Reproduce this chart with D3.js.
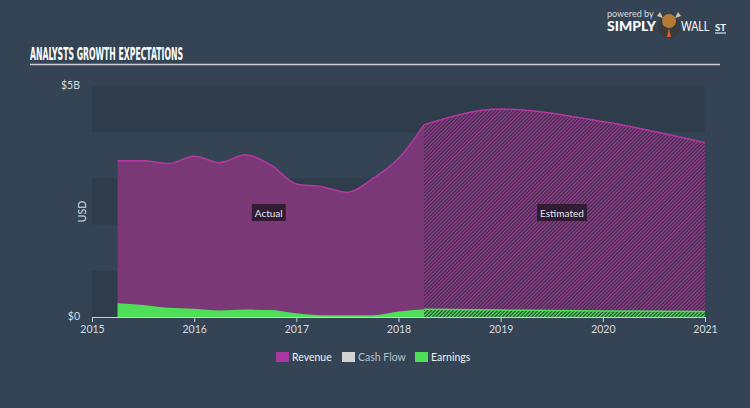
<!DOCTYPE html>
<html><head><meta charset="utf-8">
<script src="https://cdnjs.cloudflare.com/ajax/libs/d3/7.8.5/d3.min.js"></script>
<style>
html,body{margin:0;padding:0;background:#344454;}
svg{display:block;}
</style></head>
<body>
<svg id="c" width="750" height="408"></svg>
<script>
// ---- data ----
const actualDates = [2015.25,2015.5,2015.75,2016.0,2016.25,2016.5,2016.75,2017.0,2017.25,2017.5,2017.75,2018.0,2018.25];
const actualRevenue = [3.38,3.38,3.32,3.48,3.34,3.51,3.29,2.88,2.82,2.70,3.00,3.43,4.16];
const actualEarnings = [0.30,0.26,0.20,0.18,0.14,0.16,0.15,0.08,0.04,0.04,0.04,0.12,0.17];
const estDates = [2018.25,2019.0,2020.0,2021.0];
const estRevenue = [4.16,4.50,4.23,3.77];
const estEarnings = [0.17,0.15,0.13,0.12];
const yearTicks = [2015,2016,2017,2018,2019,2020,2021];
const yTickValues = [0,5];
const yTickLabels = ["$0","$5B"];
const legendItems = ["Revenue","Cash Flow","Earnings"];
const legendColors = ["#a9379d","#d2d2d2","#4ede58"];

const svg = d3.select("#c");
const W = 750, H = 408;
const x = d3.scaleLinear().domain([2015,2021]).range([92,705]);
const y = d3.scaleLinear().domain([0,5]).range([317,86]);

// background
svg.append("rect").attr("width",W).attr("height",H).attr("fill","#344454");

// defs: hatch patterns
const defs = svg.append("defs");
function hatch(id, bg, fg){
  const p = defs.append("pattern").attr("id",id).attr("patternUnits","userSpaceOnUse")
    .attr("width",2.6).attr("height",2.6).attr("patternTransform","rotate(45)");
  p.append("rect").attr("width",2.6).attr("height",2.6).attr("fill",bg);
  p.append("rect").attr("width",1.3).attr("height",2.6).attr("fill",fg);
}
hatch("hRev","#3c2f4a","#973a8e");
hatch("hEarn","#2f4a3a","#4ede58");

// title
svg.append("text").attr("x",30).attr("y",59.5).text("ANALYSTS GROWTH EXPECTATIONS")
  .attr("font-family","'DejaVu Sans Condensed','DejaVu Sans',sans-serif").attr("font-weight","bold")
  .attr("font-size",17).attr("fill","#ffffff").attr("textLength",153).attr("lengthAdjust","spacingAndGlyphs");
svg.append("line").attr("x1",30).attr("x2",720).attr("y1",64.5).attr("y2",64.5)
  .attr("stroke","#c9cfd6").attr("stroke-width",1.5);

// logo
const logo = svg.append("g");
logo.append("text").attr("x",607).attr("y",17).text("powered by").attr("font-family","Lato,sans-serif")
  .attr("font-size",9).attr("fill","#d8dde3");
logo.append("text").attr("x",607).attr("y",31).text("SIMPLY").attr("font-family","Lato,sans-serif")
  .attr("font-weight","900").attr("font-size",13).attr("fill","#ffffff").attr("textLength",49).attr("lengthAdjust","spacingAndGlyphs");
logo.append("circle").attr("cx",669).attr("cy",27).attr("r",11).attr("fill","#3b3b3b");
logo.append("ellipse").attr("cx",669).attr("cy",21).attr("rx",7).attr("ry",7).attr("fill","#b27a35");
logo.append("path").attr("d","M660,12 L663,18 L657,16 Z M678,12 L675,18 L681,16 Z").attr("fill","#d9c49a");
logo.append("path").attr("d","M669,28 L667,37 L671,37 Z").attr("fill","#e0602a");
logo.append("text").attr("x",681).attr("y",31).text("WALL").attr("font-family","Lato,sans-serif")
  .attr("font-size",13).attr("fill","#ffffff").attr("textLength",28).attr("lengthAdjust","spacingAndGlyphs");
logo.append("text").attr("x",715).attr("y",31).text("ST").attr("font-family","Lato,sans-serif")
  .attr("font-weight","bold").attr("font-size",10).attr("fill","#ffffff")
  .attr("textLength",11).attr("lengthAdjust","spacingAndGlyphs");
logo.append("line").attr("x1",715).attr("x2",726).attr("y1",33).attr("y2",33).attr("stroke","#ffffff").attr("stroke-width",1);

// bands (alternating)
const bandVals = [0,1,2,3,4];
svg.append("g").selectAll("rect").data(bandVals.filter(v=>v%2===0)).join("rect")
  .attr("x",x(2015)).attr("width",x(2021)-x(2015))
  .attr("y",d=>y(d+1)).attr("height",d=>y(d)-y(d+1))
  .attr("fill","#2e3c4b");

// areas
const actRev = actualDates.map((d,i)=>({d,v:actualRevenue[i]}));
const estRev = estDates.map((d,i)=>({d,v:estRevenue[i]}));
const actEarn = actualDates.map((d,i)=>({d,v:actualEarnings[i]}));
const estEarn = estDates.map((d,i)=>({d,v:estEarnings[i]}));
const area = d3.area().x(p=>x(p.d)).y0(y(0)).y1(p=>y(p.v)).curve(d3.curveMonotoneX);
const line = d3.line().x(p=>x(p.d)).y(p=>y(p.v)).curve(d3.curveMonotoneX);

svg.append("path").attr("d",area(actRev)).attr("fill","#7a3976");
svg.append("path").attr("d",area(estRev)).attr("fill","url(#hRev)");
svg.append("path").attr("d",line(actRev)).attr("fill","none").attr("stroke","#b4389f").attr("stroke-width",1.5);
svg.append("path").attr("d",line(estRev)).attr("fill","none").attr("stroke","#b4389f").attr("stroke-width",1.5);

svg.append("path").attr("d",area(actEarn)).attr("fill","#4ede58");
svg.append("path").attr("d",area(estEarn)).attr("fill","url(#hEarn)");
svg.append("path").attr("d",line(estEarn)).attr("fill","none").attr("stroke","#4ede58").attr("stroke-width",1.5);

// labels Actual / Estimated
function tag(label, cx){
  const g = svg.append("g");
  const t = g.append("text").attr("x",cx).attr("y",216.5).attr("text-anchor","middle").text(label)
    .attr("font-family","Lato,sans-serif").attr("font-size",10).attr("fill","#e6e6ea");
  const bb = t.node().getBBox();
  g.insert("rect","text").attr("x",bb.x-3).attr("y",204).attr("width",bb.width+6).attr("height",17)
    .attr("fill","#2a1a2c").attr("opacity",0.9);
}
tag("Actual", x(2016.73));
tag("Estimated", x(2019.6));

// x axis
const xAxis = d3.axisBottom(x).tickValues(yearTicks).tickFormat(d3.format("d")).tickSize(5).tickSizeOuter(0);
const gx = svg.append("g").attr("transform",`translate(0,${y(0)})`).call(xAxis);
gx.select(".domain").attr("stroke","#c9cfd6");
gx.selectAll(".tick line").attr("stroke","#c9cfd6");
gx.selectAll(".tick text").attr("fill","#d6dbe0").attr("font-family","Lato,sans-serif").attr("font-size",10.5).attr("dy","0.75em");

// y labels
svg.append("g").selectAll("text").data(yTickValues).join("text")
  .attr("x",80).attr("y",d=>y(d)+3).attr("text-anchor","end")
  .text((d,i)=>yTickLabels[i]).attr("fill","#d6dbe0").attr("font-family","Lato,sans-serif").attr("font-size",10.5);
svg.append("text").attr("transform",`translate(86,${y(2.5)+10}) rotate(-90)`).attr("text-anchor","middle")
  .text("USD").attr("fill","#d6dbe0").attr("font-family","Lato,sans-serif").attr("font-size",10.5);

// legend
const lg = svg.append("g");
const lx = [276,342,415];
legendItems.forEach((name,i)=>{
  lg.append("rect").attr("x",lx[i]).attr("y",352).attr("width",13).attr("height",10).attr("fill",legendColors[i]);
  lg.append("text").attr("x",lx[i]+16).attr("y",361).text(name).attr("font-family","Lato,sans-serif")
    .attr("font-size",10.5).attr("fill", i===1 ? "#b8c0c8" : "#eef0f2");
});
</script>
</body></html>
